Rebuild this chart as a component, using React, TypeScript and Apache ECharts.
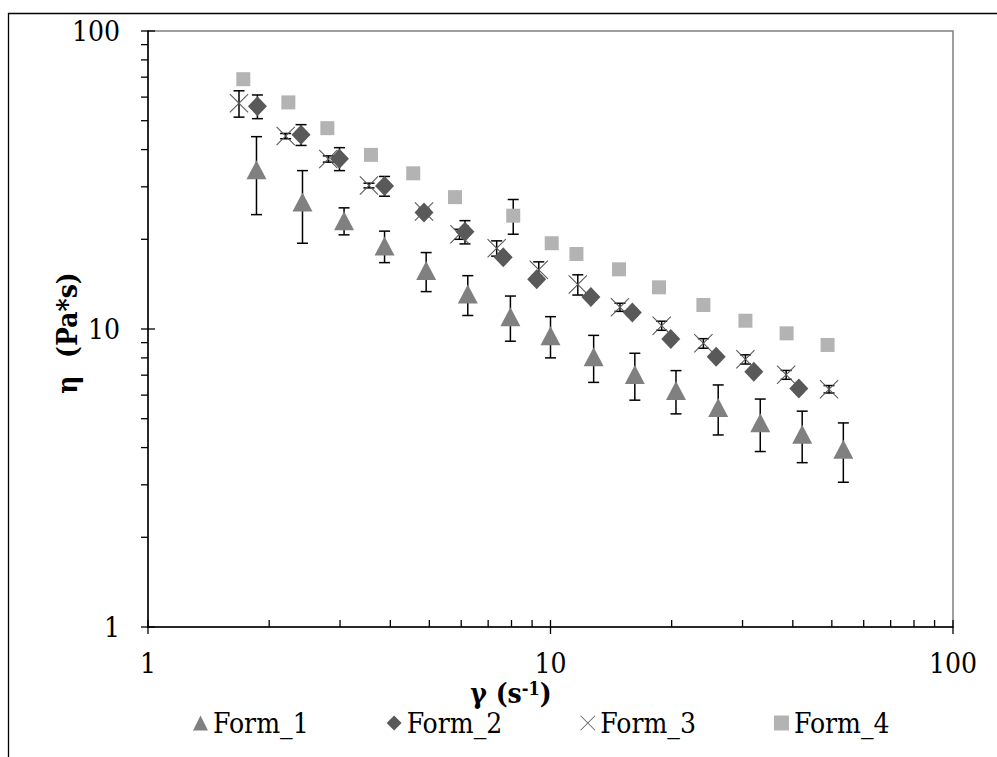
import React, { useEffect, useRef } from "react";
import * as echarts from "echarts";

// Shear rate (1/s) and viscosity (Pa*s) for each formulation, with ± deviation
const form1X = [1.86, 2.42, 3.07, 3.87, 4.91, 6.23, 7.95, 10.0, 12.8, 16.2, 20.5, 26.1, 33.2, 42.2, 53.4];
const form1Y = [34.2, 26.7, 23.1, 19.0, 15.7, 13.1, 11.0, 9.5, 8.07, 7.03, 6.22, 5.45, 4.85, 4.43, 3.95];
const form1Err = [10.0, 7.3, 2.4, 2.3, 2.35, 2.0, 1.9, 1.5, 1.45, 1.26, 1.03, 1.04, 0.97, 0.87, 0.89];

const form2X = [1.87, 2.4, 2.99, 3.87, 4.85, 6.13, 7.63, 9.24, 12.6, 15.97, 19.9, 25.8, 32.0, 41.4];
const form2Y = [55.9, 44.9, 37.3, 30.2, 24.6, 21.2, 17.4, 14.7, 12.8, 11.35, 9.26, 8.07, 7.19, 6.31];
const form2Err = [5.1, 3.6, 3.3, 2.3, 0.5, 1.9, 0.4, 0.4, 0.3, 0.3, 0.2, 0.2, 0.15, 0.15];

const form3X = [1.683, 2.198, 2.805, 3.54, 4.85, 5.94, 7.35, 9.35, 11.69, 14.88, 18.89, 23.98, 30.5, 38.5, 49.2];
const form3Y = [57.2, 44.4, 37.2, 30.3, 24.8, 20.8, 18.66, 15.8, 14.1, 11.83, 10.26, 8.95, 7.91, 7.02, 6.28];
const form3Err = [5.8, 0.9, 0.9, 0.55, 0.6, 0.8, 1.1, 1.0, 1.1, 0.37, 0.36, 0.33, 0.28, 0.24, 0.18];

const form4X = [1.725, 2.232, 2.79, 3.58, 4.56, 5.79, 8.08, 10.07, 11.6, 14.8, 18.6, 23.98, 30.5, 38.6, 48.8];
const form4Y = [68.9, 57.6, 47.2, 38.4, 33.3, 27.7, 24.0, 19.4, 17.85, 15.86, 13.8, 12.04, 10.66, 9.67, 8.84];
const form4Err = [0, 0, 0, 0, 0, 0, 3.2, 0, 0, 0, 0, 0, 0, 0, 0];

const seriesNames = ["Form_1", "Form_2", "Form_3", "Form_4"];

// Log-axis tick positions
const majorTicks = [1, 10, 100];
const minorTicks = [2, 3, 4, 5, 6, 7, 8, 9, 20, 30, 40, 50, 60, 70, 80, 90];

const FONT = "DejaVu Serif Condensed, DejaVu Serif";
const CROSS_PATH = "path://M0,0.4L0.4,0L10,9.6L9.6,10Z M9.6,0L10,0.4L0.4,10L0,9.6Z";

const points = (xs: number[], ys: number[]) => xs.map((x, i) => [x, ys[i]]);
const errRows = (xs: number[], ys: number[], es: number[]) =>
  xs
    .map((x, i) => [x, ys[i] - es[i], ys[i] + es[i]])
    .filter((_, i) => es[i] > 0);

const errorBarSeries = (name: string, rows: number[][]) => ({
  type: "custom",
  name: name + " error",
  data: rows,
  encode: { x: 0, y: [1, 2] },
  silent: true,
  renderItem: (_params: any, api: any) => {
    const x = api.value(0);
    const top = api.coord([x, api.value(2)]);
    const bot = api.coord([x, api.value(1)]);
    const cap = 5.5;
    const style = { stroke: "#000", lineWidth: 1.5 };
    return {
      type: "group",
      children: [
        { type: "line", shape: { x1: top[0], y1: top[1], x2: bot[0], y2: bot[1] }, style },
        { type: "line", shape: { x1: top[0] - cap, y1: top[1], x2: top[0] + cap, y2: top[1] }, style },
        { type: "line", shape: { x1: bot[0] - cap, y1: bot[1], x2: bot[0] + cap, y2: bot[1] }, style },
      ],
    };
  },
});

// kind: 0 x-minor, 1 x-major, 2 y-minor, 3 y-major
const tickRows = [
  ...minorTicks.map((v) => [v, 1, 0]),
  ...majorTicks.map((v) => [v, 1, 1]),
  ...minorTicks.map((v) => [1, v, 2]),
  ...majorTicks.map((v) => [1, v, 3]),
];

export default function App() {
  const ref = useRef<HTMLDivElement>(null);

  useEffect(() => {
    if (!ref.current) return;
    const chart = echarts.init(ref.current, undefined, { renderer: "svg" });
    const labelStyle = { fontFamily: FONT, fontSize: 28, color: "#000" };

    chart.setOption({
      animation: false,
      backgroundColor: "#fff",
      textStyle: { fontFamily: FONT },
      grid: {
        left: 148,
        right: 44,
        top: 31,
        bottom: 130,
        show: true,
        borderColor: "#7f7f7f",
        borderWidth: 1.5,
        backgroundColor: "transparent",
      },
      xAxis: {
        type: "log",
        logBase: 10,
        min: 1,
        max: 100,
        axisLine: { show: true, lineStyle: { color: "#000", width: 1.5 } },
        axisTick: { show: false },
        splitLine: { show: false },
        axisLabel: { ...labelStyle, margin: 22, formatter: (v: number) => String(v) },
      },
      yAxis: {
        type: "log",
        logBase: 10,
        min: 1,
        max: 100,
        axisLine: { show: true, lineStyle: { color: "#000", width: 1.5 } },
        axisTick: { show: false },
        splitLine: { show: false },
        axisLabel: { ...labelStyle, margin: 28, formatter: (v: number) => String(v) },
      },
      legend: {
        left: 188,
        top: 704,
        itemWidth: 15,
        itemHeight: 15,
        itemGap: 78,
        selectedMode: false,
        textStyle: { fontFamily: FONT, fontSize: 28, color: "#000" },
        data: [
          { name: seriesNames[0], icon: "triangle" },
          { name: seriesNames[1], icon: "diamond" },
          { name: seriesNames[2], icon: CROSS_PATH },
          { name: seriesNames[3], icon: "rect" },
        ],
      },
      graphic: [
        {
          type: "rect",
          silent: true,
          shape: { x: 8.5, y: 13.5, width: 1200, height: 900 },
          style: { fill: "none", stroke: "#000", lineWidth: 1.3 },
        },
        {
          type: "text",
          x: 67,
          y: 333,
          rotation: Math.PI / 2,
          style: {
            text: "η  (Pa*s)",
            fontFamily: FONT,
            fontSize: 28,
            fontWeight: "bold",
            fill: "#000",
            align: "center",
            verticalAlign: "middle",
          },
        },
        {
          type: "text",
          x: 511,
          y: 693,
          style: {
            text: "{a|γ (s}{b|-1}{a|)}",
            align: "center",
            verticalAlign: "middle",
            rich: {
              a: { fontFamily: FONT, fontSize: 28, fontWeight: "bold", fill: "#000" },
              b: { fontFamily: FONT, fontSize: 18, fontWeight: "bold", fill: "#000", verticalAlign: "top" },
            },
          },
        },
      ],
      series: [
        {
          type: "custom",
          name: "ticks",
          data: tickRows,
          encode: { x: 0, y: 1 },
          silent: true,
          z: 5,
          renderItem: (_params: any, api: any) => {
            const p = api.coord([api.value(0), api.value(1)]);
            const kind = api.value(2);
            const style = { stroke: "#000", lineWidth: 1.3 };
            let shape;
            if (kind === 0) shape = { x1: p[0], y1: p[1], x2: p[0], y2: p[1] - 7 };
            else if (kind === 1) shape = { x1: p[0], y1: p[1] - 7, x2: p[0], y2: p[1] + 7 };
            else if (kind === 2) shape = { x1: p[0] - 7, y1: p[1], x2: p[0], y2: p[1] };
            else shape = { x1: p[0] - 7, y1: p[1], x2: p[0] + 7, y2: p[1] };
            return { type: "line", shape, style };
          },
        },
        errorBarSeries(seriesNames[0], errRows(form1X, form1Y, form1Err)),
        {
          type: "scatter",
          name: seriesNames[0],
          data: points(form1X, form1Y),
          symbol: "triangle",
          symbolSize: [20, 19],
          itemStyle: { color: "#808080", opacity: 1 },
        },
        errorBarSeries(seriesNames[1], errRows(form2X, form2Y, form2Err)),
        {
          type: "scatter",
          name: seriesNames[1],
          data: points(form2X, form2Y),
          symbol: "diamond",
          symbolSize: [19, 20],
          itemStyle: { color: "#595959", opacity: 1 },
        },
        errorBarSeries(seriesNames[2], errRows(form3X, form3Y, form3Err)),
        {
          type: "scatter",
          name: seriesNames[2],
          data: points(form3X, form3Y),
          symbol: CROSS_PATH,
          symbolSize: 19,
          itemStyle: { color: "#595959", opacity: 1 },
        },
        errorBarSeries(seriesNames[3], errRows(form4X, form4Y, form4Err)),
        {
          type: "scatter",
          name: seriesNames[3],
          data: points(form4X, form4Y),
          symbol: "rect",
          symbolSize: 14,
          itemStyle: { color: "#b3b3b3", opacity: 1 },
        },
      ],
    });

    return () => chart.dispose();
  }, []);

  return (
    <div
      ref={ref}
      style={{ position: "fixed", left: 0, top: 0, width: 997, height: 757, background: "#fff" }}
    />
  );
}
